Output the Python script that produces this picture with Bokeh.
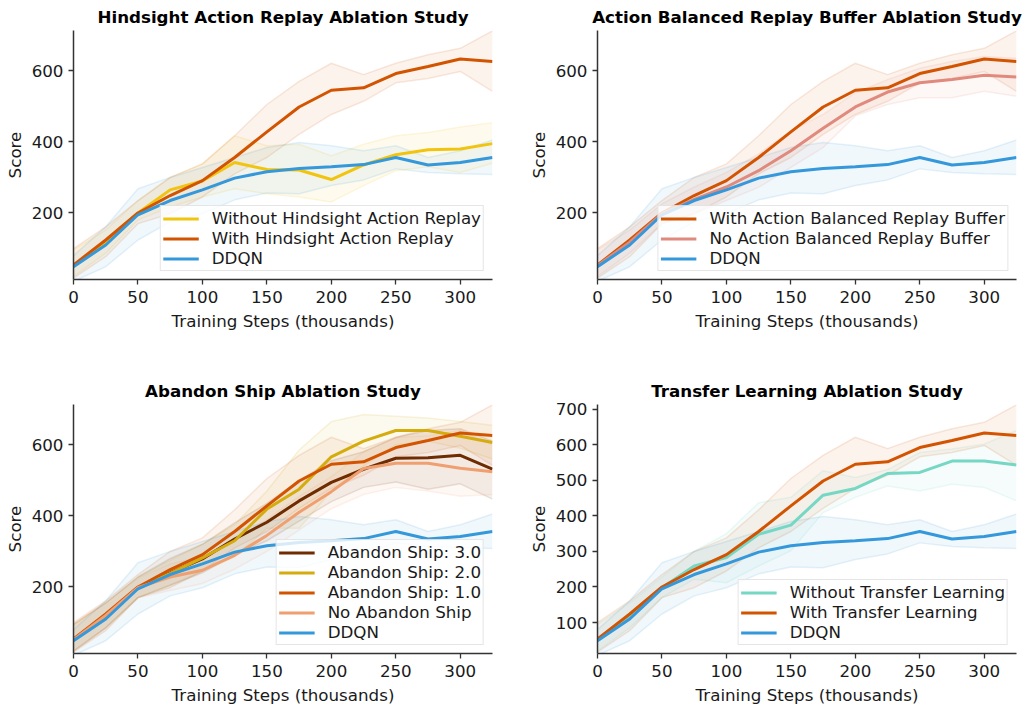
from bokeh.plotting import figure
from bokeh.layouts import column, row
from bokeh.models import FixedTicker, Range1d, Legend, LegendItem
from bokeh.embed import file_html
from bokeh.resources import INLINE

# ---------------- data ----------------
steps = [0, 25, 50, 75, 100, 125, 150, 175, 200, 225, 250, 275, 300, 325]

with_mean = [54, 124, 200, 249, 291, 356, 428, 498, 545, 552, 592, 612, 633, 626]
with_lo = [17, 77, 170, 198, 245, 310, 356, 421, 477, 514, 566, 578, 598, 542]
with_hi = [100, 161, 235, 300, 338, 417, 505, 570, 621, 589, 621, 645, 663, 712]

ddqn_mean = [49, 110, 195, 235, 265, 298, 316, 325, 330, 336, 356, 335, 342, 356]
ddqn_lo = [8, 49, 124, 175, 198, 237, 256, 254, 277, 293, 324, 314, 310, 308]
ddqn_hi = [80, 161, 268, 300, 328, 356, 384, 398, 389, 375, 389, 356, 375, 405]

woh_mean = [50, 120, 200, 265, 290, 342, 322, 321, 294, 335, 364, 378, 380, 395]
woh_lo = [21, 87, 180, 217, 245, 268, 254, 245, 231, 277, 319, 330, 314, 340]
woh_hi = [96, 152, 235, 300, 338, 417, 389, 393, 361, 393, 417, 426, 442, 454]

noabrb_mean = [52, 118, 198, 238, 273, 319, 375, 438, 498, 540, 566, 575, 587, 582]
noabrb_lo = [21, 87, 170, 198, 235, 272, 328, 384, 473, 505, 524, 524, 542, 528]
noabrb_hi = [96, 152, 226, 273, 314, 366, 431, 477, 538, 575, 607, 626, 640, 635]

as3_mean = [52, 120, 198, 240, 279, 335, 382, 442, 494, 531, 562, 563, 570, 531]
as3_lo = [20, 85, 170, 205, 240, 290, 330, 385, 440, 480, 495, 475, 490, 447]
as3_hi = [95, 155, 228, 280, 320, 380, 435, 500, 555, 580, 620, 640, 645, 610]

as2_mean = [52, 120, 198, 238, 282, 330, 419, 475, 566, 610, 640, 640, 624, 606]
as2_lo = [20, 85, 170, 205, 245, 285, 365, 365, 470, 540, 600, 610, 590, 560]
as2_hi = [95, 155, 228, 275, 320, 375, 470, 585, 665, 685, 680, 675, 665, 655]

noas_mean = [52, 120, 198, 228, 247, 289, 345, 410, 468, 533, 548, 548, 534, 524]
noas_lo = [18, 85, 170, 190, 210, 250, 300, 360, 420, 460, 480, 470, 455, 460]
noas_hi = [92, 155, 225, 265, 285, 330, 390, 455, 510, 580, 620, 625, 640, 600]

wotl_mean = [52, 120, 198, 259, 283, 348, 374, 458, 477, 519, 522, 554, 554, 543]
wotl_lo = [20, 85, 170, 222, 212, 259, 302, 409, 452, 484, 470, 489, 480, 442]
wotl_hi = [95, 155, 228, 300, 350, 437, 452, 527, 508, 530, 578, 588, 602, 640]

x_ticks = [0, 50, 100, 150, 200, 250, 300]
y_ticks_a = [200, 400, 600]
y_ticks_b = [100, 200, 300, 400, 500, 600, 700]

C_WITH = "#d35400"
C_DDQN = "#3498db"
C_WOH = "#f1c40f"
C_NOABRB = "#e08a7e"
C_AS3 = "#6e2c00"
C_AS2 = "#d4ac0d"
C_NOAS = "#f0a070"
C_WOTL = "#76d7c4"

FONT = "DejaVu Sans"
FS = "16.7px"


def make_fig(title, series, yticks, width, height, bl, br, bt, bb):
    p = figure(width=width, height=height, output_backend="svg", toolbar_location=None,
               x_range=Range1d(0, 325), y_range=Range1d(13, 713),
               min_border_left=bl, min_border_right=br, min_border_top=bt, min_border_bottom=bb)
    p.title.text = title
    p.title.text_font = FONT
    p.title.text_font_size = FS
    p.title.text_font_style = "bold"
    p.title.align = "center"
    p.title.text_color = "#000000"
    p.title.standoff = 8
    p.outline_line_color = None
    p.xgrid.visible = False
    p.ygrid.visible = False
    p.background_fill_color = "white"
    p.border_fill_color = "white"

    for ax, ticks in ((p.xaxis[0], x_ticks), (p.yaxis[0], yticks)):
        ax.ticker = FixedTicker(ticks=ticks)
        ax.minor_tick_line_color = None
        ax.major_tick_in = 0
        ax.major_tick_out = 5
        ax.major_tick_line_color = "#333333"
        ax.major_tick_line_width = 1.3
        ax.axis_line_color = "#333333"
        ax.axis_line_width = 1.5
        ax.major_label_text_font = FONT
        ax.major_label_text_font_size = FS
        ax.major_label_text_color = "#1a1a1a"
        ax.axis_label_text_font = FONT
        ax.axis_label_text_font_size = FS
        ax.axis_label_text_font_style = "normal"
        ax.axis_label_text_color = "#1a1a1a"
    p.xaxis.axis_label = "Training Steps (thousands)"
    p.yaxis.axis_label = "Score"
    p.xaxis.major_label_standoff = 6
    p.xaxis.axis_label_standoff = 5
    p.yaxis.major_label_standoff = 5
    p.yaxis.axis_label_standoff = 4

    for label, color, mean, lo, hi in series:
        p.varea(x=steps, y1=lo, y2=hi, fill_color=color, fill_alpha=0.07)
        p.line(steps, lo, line_color=color, line_alpha=0.13, line_width=1.5)
        p.line(steps, hi, line_color=color, line_alpha=0.13, line_width=1.5)

    items = []
    for label, color, mean, lo, hi in series:
        r = p.line(steps, mean, line_color=color, line_width=3)
        items.append(LegendItem(label=label, renderers=[r]))

    legend = Legend(items=items, location="bottom_right")
    legend.margin = 8
    legend.padding = 2
    legend.spacing = 0
    legend.label_text_font = FONT
    legend.label_text_font_size = FS
    legend.label_text_line_height = 1.0
    legend.label_text_color = "#1a1a1a"
    legend.label_standoff = 13
    legend.glyph_width = 36
    legend.glyph_height = 17
    legend.label_height = 17
    legend.border_line_color = "#cccccc"
    legend.border_line_width = 1
    legend.background_fill_color = "white"
    legend.background_fill_alpha = 0.8
    p.add_layout(legend)
    return p


p1 = make_fig("Hindsight Action Replay Ablation Study",
              [("Without Hindsight Action Replay", C_WOH, woh_mean, woh_lo, woh_hi),
               ("With Hindsight Action Replay", C_WITH, with_mean, with_lo, with_hi),
               ("DDQN", C_DDQN, ddqn_mean, ddqn_lo, ddqn_hi)],
              y_ticks_a, 512, 360, 73, 20, 29, 81)

p2 = make_fig("Action Balanced Replay Buffer Ablation Study",
              [("With Action Balanced Replay Buffer", C_WITH, with_mean, with_lo, with_hi),
               ("No Action Balanced Replay Buffer", C_NOABRB, noabrb_mean, noabrb_lo, noabrb_hi),
               ("DDQN", C_DDQN, ddqn_mean, ddqn_lo, ddqn_hi)],
              y_ticks_a, 513, 360, 85, 9, 29, 81)

p3 = make_fig("Abandon Ship Ablation Study",
              [("Abandon Ship: 3.0", C_AS3, as3_mean, as3_lo, as3_hi),
               ("Abandon Ship: 2.0", C_AS2, as2_mean, as2_lo, as2_hi),
               ("Abandon Ship: 1.0", C_WITH, with_mean, with_lo, with_hi),
               ("No Abandon Ship", C_NOAS, noas_mean, noas_lo, noas_hi),
               ("DDQN", C_DDQN, ddqn_mean, ddqn_lo, ddqn_hi)],
              y_ticks_a, 512, 348, 73, 20, 44, 55)

p4 = make_fig("Transfer Learning Ablation Study",
              [("Without Transfer Learning", C_WOTL, wotl_mean, wotl_lo, wotl_hi),
               ("With Transfer Learning", C_WITH, with_mean, with_lo, with_hi),
               ("DDQN", C_DDQN, ddqn_mean, ddqn_lo, ddqn_hi)],
              y_ticks_b, 513, 348, 85, 9, 44, 55)

layout = column(row(p1, p2), row(p3, p4))

open("out.html", "w").write(file_html(layout, INLINE))
